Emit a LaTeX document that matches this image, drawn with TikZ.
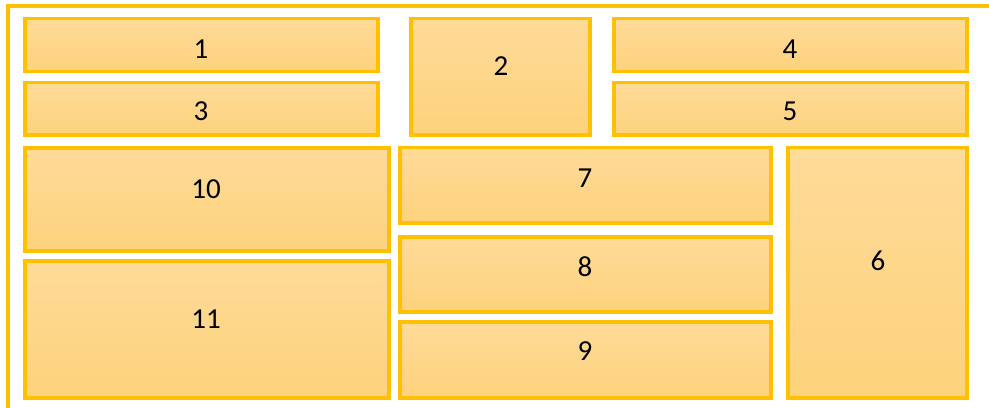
\documentclass[tikz,border=0pt]{standalone}
\usepackage{fontspec}
\setmainfont{Carlito}
\usetikzlibrary{fit}
\definecolor{gold}{HTML}{FFC000}
\definecolor{paneltop}{HTML}{FFDB99}
\definecolor{panelbot}{HTML}{FDD27C}
\tikzset{
    panel/.style={draw=gold, line width=2.1pt, inner sep=0pt, outer sep=0pt,
        top color=paneltop, bottom color=panelbot},
    num/.style={font=\fontsize{16.5pt}{19pt}\selectfont, inner sep=0pt}
}

\begin{document}
\begin{tikzpicture}[x=0.02cm, y=-0.02cm]
\useasboundingbox (0,0) rectangle (989,408);
% outer frame
\draw[gold, line width=1.9pt] (8,408) |- (989,6);
% top band
\node[panel, fit={(25,18.5) (378,71.5)}] (p1) {};
\node[panel, fit={(25,82.5) (378,135)}] (p3) {};
\node[panel, fit={(411,18.5) (590,135)}] (p2) {};
\node[panel, fit={(614,18.5) (967,71.5)}] (p4) {};
\node[panel, fit={(614,82.5) (967,135)}] (p5) {};
% lower part
\node[panel, fit={(25,148) (389,251)}] (p10) {};
\node[panel, fit={(25,261) (389,398)}] (p11) {};
\node[panel, fit={(400,147.5) (771,223)}] (p7) {};
\node[panel, fit={(400,237) (771,312)}] (p8) {};
\node[panel, fit={(400,322) (771,398)}] (p9) {};
\node[panel, fit={(788,147.5) (967,398)}] (p6) {};
% numbers
\node[num] (t1) at (201,49) {1};
\node[num] (t2) at (501,66) {2};
\node[num] (t3) at (201,111) {3};
\node[num] (t4) at (790,49) {4};
\node[num] (t5) at (790,111) {5};
\node[num] (t10) at (206,189) {10};
\node[num] (t11) at (206,319) {11};
\node[num] (t7) at (585,178) {7};
\node[num] (t8) at (585,267) {8};
\node[num] (t9) at (585,351) {9};
\node[num] (t6) at (878,261) {6};
\end{tikzpicture}
\end{document}
